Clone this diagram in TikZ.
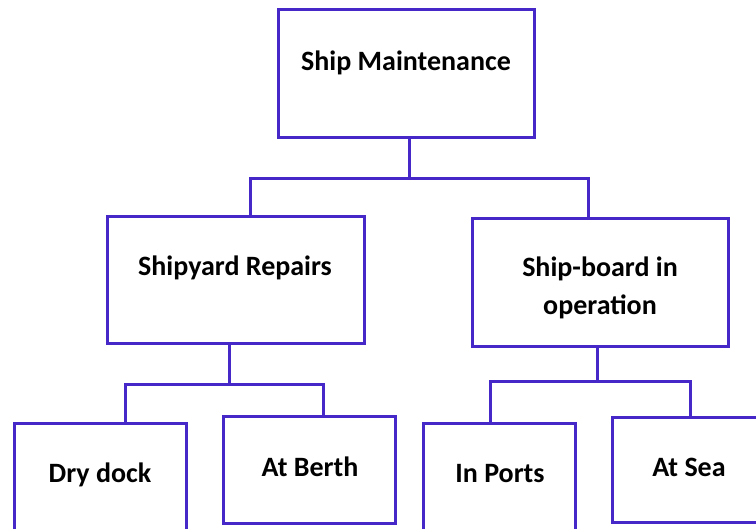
\documentclass[tikz,border=0pt]{standalone}
\usepackage{fontspec}
\setmainfont{Carlito}
\definecolor{bord}{RGB}{70,40,200}
\begin{document}
\begin{tikzpicture}[x=1pt,y=-1pt,
  boite/.style={draw=bord,line width=3pt,minimum width=#1},
  txt/.style={anchor=base,inner sep=0,font=\fontsize{28}{38}\selectfont\bfseries,align=center},
  lien/.style={draw=bord,line width=3pt}]
\clip(0,0)rectangle(756,529);
\fill[white](0,0)rectangle(756,529);
% les boites
\node[boite=256,minimum height=128](SM)at(406,74){};
\node[boite=257,minimum height=127](SR)at(235.5,280.5){};
\node[boite=256,minimum height=128](SB)at(600,283){};
\node[boite=172,minimum height=126](DD)at(100,487){};
\node[boite=172,minimum height=107](AB)at(309,470.5){};
\node[boite=152,minimum height=126](IP)at(499,487){};
\node[boite=178,minimum height=105](AS)at(701,470.5){};
% les textes
\node[txt](tSM)at(406,71){Ship Maintenance};
\node[txt](tSR)at(235,276){Shipyard Repairs};
\node[txt](tSB)at(600,315){Ship-board in\\operation};
\node[txt](tDD)at(100,483){Dry dock};
\node[txt](tAB)at(310,477){At Berth};
\node[txt](tIP)at(500,483){In Ports};
\node[txt](tAS)at(689,477){At Sea};
% les liens
\coordinate(j1)at(409,179);\coordinate(g1)at(250,179);\coordinate(d1)at(588,179);
\draw[lien](SM.south -| j1)--(j1);
\draw[lien](SR.north -| g1)--(g1)--(d1)--(SB.north -| d1);
\coordinate(j2)at(229,385);\coordinate(g2)at(125,385);\coordinate(d2)at(323,385);
\draw[lien](SR.south -| j2)--(j2);
\draw[lien](DD.north -| g2)--(g2)--(d2)--(AB.north -| d2);
\coordinate(j3)at(597,382);\coordinate(g3)at(490,382);\coordinate(d3)at(690,382);
\draw[lien](SB.south -| j3)--(j3);
\draw[lien](IP.north -| g3)--(g3)--(d3)--(AS.north -| d3);
\end{tikzpicture}
\end{document}
